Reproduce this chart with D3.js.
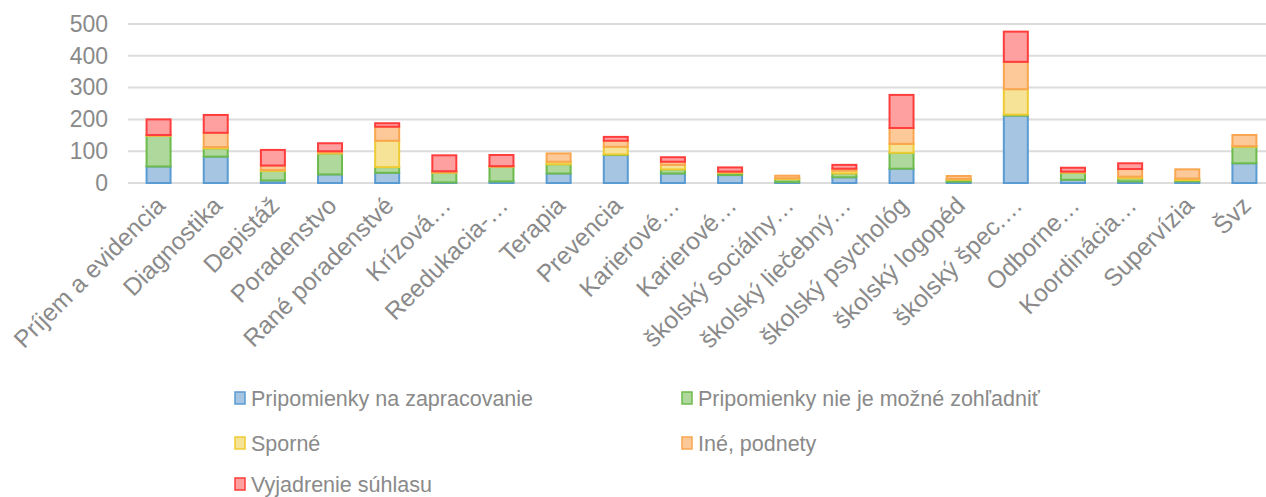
<!DOCTYPE html>
<html>
<head>
<meta charset="utf-8">
<script src="https://cdn.jsdelivr.net/npm/d3@7"></script>
<style>
  body { margin: 0; background: #fff; }
  text { font-family: "Liberation Sans", Arial, sans-serif; fill: #8a8a8a; }
</style>
</head>
<body>
<div id="chart"></div>
<script>
// Data
const categories = [
  "Príjem a evidencia", "Diagnostika", "Depistáž", "Poradenstvo", "Rané poradenstvé",
  "Krízová…", "Reedukacia-…", "Terapia", "Prevencia", "Karierové…",
  "Karierové…", "školský sociálny…", "školský liečebný…", "školský psychológ", "školský logopéd",
  "školský špec.…", "Odborne…", "Koordinácia…", "Supervízia", "Švz"
];
const seriesNames = [
  "Pripomienky na zapracovanie",
  "Pripomienky nie je možné zohľadniť",
  "Sporné",
  "Iné, podnety",
  "Vyjadrenie súhlasu"
];
const zapracovanie = [52, 83, 8, 27, 32, 2, 5, 30, 88, 30, 25, 3, 18, 45, 4, 212, 10, 5, 5, 62];
const nemozne      = [96, 26, 30, 66, 18, 30, 46, 29, 2, 13, 7, 9, 12, 50, 6, 3, 22, 10, 4, 52];
const sporne       = [1, 4, 3, 3, 83, 2, 1, 8, 24, 14, 2, 3, 9, 28, 3, 80, 2, 5, 5, 2];
const ine          = [2, 45, 14, 4, 44, 3, 1, 26, 19, 10, 2, 8, 6, 50, 9, 86, 2, 24, 29, 35];
const suhlas       = [49, 56, 49, 25, 11, 50, 35, 0, 12, 14, 13, 0, 12, 104, 0, 95, 12, 18, 0, 0];
const yTicks = [0, 100, 200, 300, 400, 500];

const fills = ["#a6c5e3", "#aed89c", "#f7e398", "#fec998", "#ffa0a0"];
const strokes = ["#5a9bd2", "#6dbb4c", "#efcb33", "#f9a650", "#ff3d3d"];

const dimensions = { width: 1266, height: 497, left: 130, right: 1273, top: 24, bottom: 183 };

// Build stack table
const table = categories.map((c, i) => ({
  key: i,
  s0: zapracovanie[i], s1: nemozne[i], s2: sporne[i], s3: ine[i], s4: suhlas[i]
}));
const stacked = d3.stack().keys(["s0", "s1", "s2", "s3", "s4"])(table);

const svg = d3.select("#chart")
  .append("svg")
  .attr("width", dimensions.width)
  .attr("height", dimensions.height);

// Scales
const xScale = d3.scaleBand()
  .domain(d3.range(categories.length))
  .range([dimensions.left, dimensions.right])
  .paddingInner(0.58)
  .paddingOuter(0.29);

const yScale = d3.scaleLinear()
  .domain([0, 500])
  .range([dimensions.bottom, dimensions.top]);

// Gridlines
svg.append("g")
  .selectAll("line")
  .data(yTicks)
  .join("line")
  .attr("x1", 128)
  .attr("x2", dimensions.width)
  .attr("y1", d => yScale(d))
  .attr("y2", d => yScale(d))
  .attr("stroke", "#dcdcdc")
  .attr("stroke-width", 2);

// Y axis
const yAxis = d3.axisLeft(yScale).tickValues(yTicks).tickSize(0).tickPadding(0);
const yAxisGroup = svg.append("g")
  .attr("transform", "translate(108,0)")
  .call(yAxis);
yAxisGroup.select(".domain").remove();
yAxisGroup.selectAll("text")
  .style("font-size", "23px")
  .attr("fill", "#8a8a8a");

// Bars
svg.append("g")
  .selectAll("g")
  .data(stacked)
  .join("g")
  .attr("fill", (d, i) => fills[i])
  .attr("stroke", (d, i) => strokes[i])
  .attr("stroke-width", 2)
  .selectAll("rect")
  .data(d => d.filter(p => p[1] - p[0] > 0))
  .join("rect")
  .attr("x", d => xScale(d.data.key))
  .attr("width", xScale.bandwidth())
  .attr("y", d => yScale(d[1]))
  .attr("height", d => yScale(d[0]) - yScale(d[1]));

// X labels
svg.append("g")
  .selectAll("text")
  .data(categories)
  .join("text")
  .attr("text-anchor", "end")
  .attr("transform", (d, i) =>
    `translate(${xScale(i) + xScale.bandwidth() / 2 + 8}, 207) rotate(-45)`)
  .style("font-size", "24.5px")
  .text(d => d);

// Legend
const legendPos = [[235, 398], [682, 398], [235, 443], [682, 443], [235, 484]];
const legend = svg.append("g")
  .selectAll("g")
  .data(seriesNames)
  .join("g")
  .attr("transform", (d, i) => `translate(${legendPos[i][0]}, ${legendPos[i][1]})`);
legend.append("rect")
  .attr("x", 0)
  .attr("y", -6)
  .attr("width", 10)
  .attr("height", 12)
  .attr("fill", (d, i) => fills[i])
  .attr("stroke", (d, i) => strokes[i])
  .attr("stroke-width", 1.5);
legend.append("text")
  .attr("x", 16)
  .attr("dy", "0.35em")
  .style("font-size", "21.5px")
  .text(d => d);
</script>
</body>
</html>
